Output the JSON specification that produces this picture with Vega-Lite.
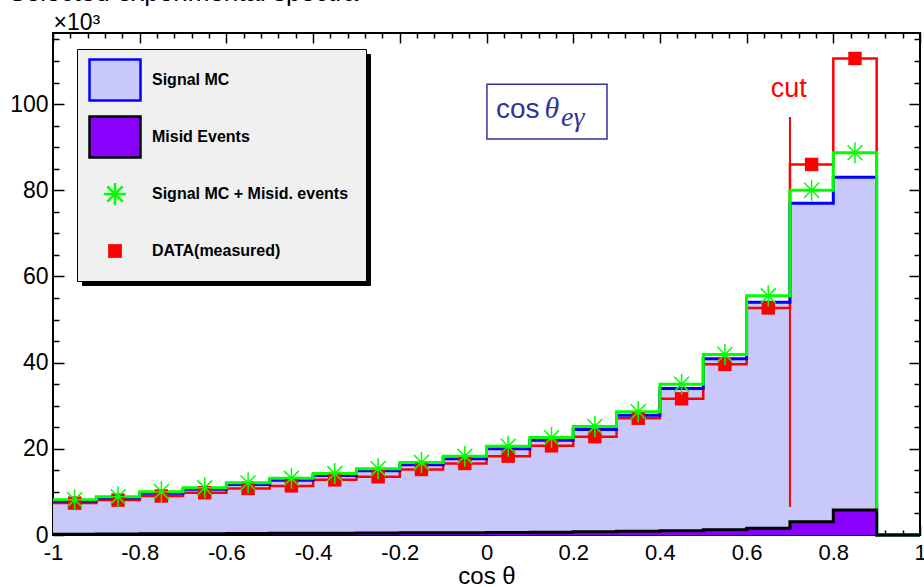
{
  "$schema": "https://vega.github.io/schema/vega-lite/v6.json",
  "width": 867,
  "height": 502,
  "autosize": "none",
  "padding": {"left": 53, "top": 33, "right": 4, "bottom": 52},
  "background": "white",
  "config": {
    "view": {"stroke": "#000", "strokeWidth": 2},
    "axis": {"domain": false, "grid": false, "tickColor": "#000", "tickWidth": 1.5, "labelColor": "#000", "labelFont": "Liberation Sans", "labelFontSize": 22, "titleFont": "Liberation Sans", "titleColor": "#000", "titleFontWeight": "normal", "labelFlush": false, "labelOverlap": false},
    "legend": {"orient": "none", "title": null, "padding": 4, "rowPadding": 4, "symbolSize": 2601, "symbolOffset": 7, "labelOffset": 10, "labelFont": "Liberation Sans", "labelFontSize": 16, "labelFontWeight": "bold", "labelColor": "#000000", "labelLimit": 500}
  },
  "datasets": {
    "hist": [
      {"lo": -1.0, "c": -0.95, "sig": 7.9, "mis": 0.2, "tot": 8.2, "dat": 7.4},
      {"lo": -0.9, "c": -0.85, "sig": 8.6, "mis": 0.25, "tot": 8.9, "dat": 8.1},
      {"lo": -0.8, "c": -0.75, "sig": 9.7, "mis": 0.3, "tot": 10.05, "dat": 9.05},
      {"lo": -0.7, "c": -0.65, "sig": 10.6, "mis": 0.3, "tot": 10.95, "dat": 9.8},
      {"lo": -0.6, "c": -0.55, "sig": 11.7, "mis": 0.35, "tot": 12.1, "dat": 10.8},
      {"lo": -0.5, "c": -0.45, "sig": 12.7, "mis": 0.4, "tot": 13.15, "dat": 11.4},
      {"lo": -0.4, "c": -0.35, "sig": 13.8, "mis": 0.4, "tot": 14.25, "dat": 12.8},
      {"lo": -0.3, "c": -0.25, "sig": 14.9, "mis": 0.45, "tot": 15.4, "dat": 13.5},
      {"lo": -0.2, "c": -0.15, "sig": 16.3, "mis": 0.5, "tot": 16.85, "dat": 15.2},
      {"lo": -0.1, "c": -0.05, "sig": 17.7, "mis": 0.55, "tot": 18.3, "dat": 16.6},
      {"lo": 0.0, "c": 0.05, "sig": 20.0, "mis": 0.6, "tot": 20.6, "dat": 18.3},
      {"lo": 0.1, "c": 0.15, "sig": 22.0, "mis": 0.65, "tot": 22.6, "dat": 20.7},
      {"lo": 0.2, "c": 0.25, "sig": 24.5, "mis": 0.75, "tot": 25.2, "dat": 22.8},
      {"lo": 0.3, "c": 0.35, "sig": 27.8, "mis": 0.85, "tot": 28.6, "dat": 27.1},
      {"lo": 0.4, "c": 0.45, "sig": 34.0, "mis": 1.0, "tot": 35.0, "dat": 31.6},
      {"lo": 0.5, "c": 0.55, "sig": 40.9, "mis": 1.2, "tot": 41.9, "dat": 39.6},
      {"lo": 0.6, "c": 0.65, "sig": 54.0, "mis": 1.55, "tot": 55.5, "dat": 52.7},
      {"lo": 0.7, "c": 0.75, "sig": 77.0, "mis": 3.1, "tot": 80.0, "dat": 86.0},
      {"lo": 0.8, "c": 0.85, "sig": 83.0, "mis": 5.8, "tot": 88.7, "dat": 110.6},
      {"lo": 0.9, "c": 0.95, "sig": 0, "mis": 0, "tot": 0, "dat": 0},
      {"lo": 1.0, "c": null, "sig": 0, "mis": 0, "tot": 0, "dat": 0}
    ],
    "cut": [{"x": 0.7, "y": 6.5, "y2": 97}],
    "cutlabel": [{"x": 0.697, "y": 101.7, "t": "cut"}],
    "box": [{"x": 0.001, "x2": 0.278, "y": 104.6, "y2": 91.9}],
    "lab1": [{"x": 0.022, "y": 96.7, "t": "cos"}],
    "lab2": [{"x": 0.134, "y": 96.7, "t": "θ"}],
    "lab3": [{"x": 0.172, "y": 95.0, "t": "eγ"}],
    "legend": [{"entry": "Signal MC"}, {"entry": "Misid Events"}, {"entry": "Signal MC + Misid. events"}, {"entry": "DATA(measured)"}],
    "shadow": [{"box": "s1"}, {"box": "s2"}, {"box": "s3"}, {"box": "s4"}]
  },
  "resolve": {"axis": {"x": "independent", "y": "independent"}},
  "layer": [
    {
      "data": {"name": "hist"},
      "mark": {"type": "area", "interpolate": "step-after", "fill": "#c8c8fa"},
      "encoding": {
        "x": {"field": "lo", "type": "quantitative", "scale": {"domain": [-1, 1], "nice": false},
          "axis": {"orient": "bottom", "values": [-1, -0.8, -0.6, -0.4, -0.2, 0, 0.2, 0.4, 0.6, 0.8, 1], "tickSize": -10, "labelPadding": 17, "labelExpr": "datum.value == 0 ? '0' : replace(format(datum.value, '.1~f'), '\u2212', '-')", "title": "cos θ", "titleFontSize": 24, "titleY": 48, "titleBaseline": "alphabetic"}},
        "y": {"field": "sig", "type": "quantitative", "stack": null, "scale": {"domain": [0, 116.5], "nice": false, "zero": false},
          "axis": {"orient": "left", "values": [0, 20, 40, 60, 80, 100], "tickSize": -11, "labelPadding": 16, "labelFontSize": 23, "title": "×10³", "titleFontSize": 23, "titleAngle": 0, "titleX": 0, "titleY": -4, "titleAlign": "left", "titleBaseline": "alphabetic"}}
      }
    },
    {
      "data": {"name": "hist"},
      "mark": {"type": "area", "interpolate": "step-after", "fill": "#8a00ff"},
      "encoding": {
        "x": {"field": "lo", "type": "quantitative", "scale": {"domain": [-1, 1], "nice": false},
          "axis": {"orient": "bottom", "values": [-0.96, -0.92, -0.88, -0.84, -0.76, -0.72, -0.68, -0.64, -0.56, -0.52, -0.48, -0.44, -0.36, -0.32, -0.28, -0.24, -0.16, -0.12, -0.08, -0.04, 0.04, 0.08, 0.12, 0.16, 0.24, 0.28, 0.32, 0.36, 0.44, 0.48, 0.52, 0.56, 0.64, 0.68, 0.72, 0.76, 0.84, 0.88, 0.92, 0.96], "tickSize": -5, "labels": false, "title": null}},
        "y": {"field": "mis", "type": "quantitative", "stack": null, "scale": {"domain": [0, 116.5], "nice": false, "zero": false},
          "axis": {"orient": "left", "values": [5, 10, 15, 25, 30, 35, 45, 50, 55, 65, 70, 75, 85, 90, 95, 105, 110, 115], "tickSize": -6, "labels": false, "title": null}}
      }
    },
    {
      "data": {"name": "hist"},
      "mark": {"type": "line", "interpolate": "step-after", "color": "#ff0000", "strokeWidth": 2.5},
      "encoding": {
        "x": {"field": "lo", "type": "quantitative", "scale": {"domain": [-1, 1], "nice": false},
          "axis": {"orient": "top", "values": [-1, -0.8, -0.6, -0.4, -0.2, 0, 0.2, 0.4, 0.6, 0.8, 1], "tickSize": -10, "labels": false, "title": "Selected experimental spectra", "titleFontSize": 26, "titleAngle": 0, "titleX": -45, "titleY": -33, "titleAlign": "left", "titleBaseline": "alphabetic"}},
        "y": {"field": "dat", "type": "quantitative", "scale": {"domain": [0, 116.5], "nice": false, "zero": false},
          "axis": {"orient": "right", "values": [0, 20, 40, 60, 80, 100], "tickSize": -11, "labels": false, "title": null}}
      }
    },
    {
      "data": {"name": "cut"},
      "mark": {"type": "rule", "color": "#ff0000", "strokeWidth": 2},
      "encoding": {
        "x": {"field": "x", "type": "quantitative", "scale": {"domain": [-1, 1], "nice": false}, "axis": null},
        "y": {"field": "y", "type": "quantitative", "scale": {"domain": [0, 116.5], "nice": false, "zero": false}, "axis": null},
        "y2": {"field": "y2"}
      }
    },
    {
      "data": {"name": "hist"},
      "mark": {"type": "line", "interpolate": "step-after", "color": "#0000ff", "strokeWidth": 3},
      "encoding": {
        "x": {"field": "lo", "type": "quantitative", "scale": {"domain": [-1, 1], "nice": false},
          "axis": {"orient": "top", "values": [-0.96, -0.92, -0.88, -0.84, -0.76, -0.72, -0.68, -0.64, -0.56, -0.52, -0.48, -0.44, -0.36, -0.32, -0.28, -0.24, -0.16, -0.12, -0.08, -0.04, 0.04, 0.08, 0.12, 0.16, 0.24, 0.28, 0.32, 0.36, 0.44, 0.48, 0.52, 0.56, 0.64, 0.68, 0.72, 0.76, 0.84, 0.88, 0.92, 0.96], "tickSize": -5, "labels": false, "title": null}},
        "y": {"field": "sig", "type": "quantitative", "scale": {"domain": [0, 116.5], "nice": false, "zero": false},
          "axis": {"orient": "right", "values": [5, 10, 15, 25, 30, 35, 45, 50, 55, 65, 70, 75, 85, 90, 95, 105, 110, 115], "tickSize": -6, "labels": false, "title": null}}
      }
    },
    {
      "data": {"name": "hist"},
      "mark": {"type": "line", "interpolate": "step-after", "color": "#00ff00", "strokeWidth": 3},
      "encoding": {
        "x": {"field": "lo", "type": "quantitative", "scale": {"domain": [-1, 1], "nice": false}, "axis": null},
        "y": {"field": "tot", "type": "quantitative", "scale": {"domain": [0, 116.5], "nice": false, "zero": false}, "axis": null}
      }
    },
    {
      "data": {"name": "hist"},
      "mark": {"type": "line", "interpolate": "step-after", "color": "#000000", "strokeWidth": 3},
      "encoding": {
        "x": {"field": "lo", "type": "quantitative", "scale": {"domain": [-1, 1], "nice": false}, "axis": null},
        "y": {"field": "mis", "type": "quantitative", "scale": {"domain": [0, 116.5], "nice": false, "zero": false}, "axis": null}
      }
    },
    {
      "data": {"name": "hist"},
      "transform": [{"filter": "datum.dat > 0"}],
      "mark": {"type": "point", "shape": "square", "filled": true, "color": "#ff0000", "size": 180, "opacity": 1},
      "encoding": {
        "x": {"field": "c", "type": "quantitative", "scale": {"domain": [-1, 1], "nice": false}, "axis": null},
        "y": {"field": "dat", "type": "quantitative", "scale": {"domain": [0, 116.5], "nice": false, "zero": false}, "axis": null}
      }
    },
    {
      "data": {"name": "hist"},
      "transform": [{"filter": "datum.tot > 0"}],
      "mark": {"type": "point", "shape": "M-1,0L1,0M0,-1L0,1M-0.71,-0.71L0.71,0.71M-0.71,0.71L0.71,-0.71", "filled": false, "stroke": "#00ff00", "strokeWidth": 1.5, "size": 441, "opacity": 1},
      "encoding": {
        "x": {"field": "c", "type": "quantitative", "scale": {"domain": [-1, 1], "nice": false}, "axis": null},
        "y": {"field": "tot", "type": "quantitative", "scale": {"domain": [0, 116.5], "nice": false, "zero": false}, "axis": null}
      }
    },
    {
      "data": {"name": "box"},
      "mark": {"type": "rect", "fill": "#ffffff", "stroke": "#333399", "strokeWidth": 1.5},
      "encoding": {
        "x": {"field": "x", "type": "quantitative", "scale": {"domain": [-1, 1], "nice": false}, "axis": null},
        "x2": {"field": "x2"},
        "y": {"field": "y", "type": "quantitative", "scale": {"domain": [0, 116.5], "nice": false, "zero": false}, "axis": null},
        "y2": {"field": "y2"}
      }
    },
    {
      "data": {"name": "lab1"},
      "mark": {"type": "text", "font": "Liberation Sans", "fontSize": 28, "color": "#333399", "align": "left", "baseline": "alphabetic"},
      "encoding": {
        "x": {"field": "x", "type": "quantitative", "scale": {"domain": [-1, 1], "nice": false}, "axis": null},
        "y": {"field": "y", "type": "quantitative", "scale": {"domain": [0, 116.5], "nice": false, "zero": false}, "axis": null},
        "text": {"field": "t"}
      }
    },
    {
      "data": {"name": "lab2"},
      "mark": {"type": "text", "font": "Liberation Serif", "fontStyle": "italic", "fontSize": 30, "color": "#333399", "align": "left", "baseline": "alphabetic"},
      "encoding": {
        "x": {"field": "x", "type": "quantitative", "scale": {"domain": [-1, 1], "nice": false}, "axis": null},
        "y": {"field": "y", "type": "quantitative", "scale": {"domain": [0, 116.5], "nice": false, "zero": false}, "axis": null},
        "text": {"field": "t"}
      }
    },
    {
      "data": {"name": "lab3"},
      "mark": {"type": "text", "font": "Liberation Serif", "fontStyle": "italic", "fontSize": 28, "color": "#333399", "align": "left", "baseline": "alphabetic"},
      "encoding": {
        "x": {"field": "x", "type": "quantitative", "scale": {"domain": [-1, 1], "nice": false}, "axis": null},
        "y": {"field": "y", "type": "quantitative", "scale": {"domain": [0, 116.5], "nice": false, "zero": false}, "axis": null},
        "text": {"field": "t"}
      }
    },
    {
      "data": {"name": "cutlabel"},
      "mark": {"type": "text", "font": "Liberation Sans", "fontSize": 27, "color": "#ff0000", "align": "center", "baseline": "alphabetic"},
      "encoding": {
        "x": {"field": "x", "type": "quantitative", "scale": {"domain": [-1, 1], "nice": false}, "axis": null},
        "y": {"field": "y", "type": "quantitative", "scale": {"domain": [0, 116.5], "nice": false, "zero": false}, "axis": null},
        "text": {"field": "t"}
      }
    },
    {
      "data": {"name": "shadow"},
      "mark": {"type": "point", "opacity": 0},
      "encoding": {
        "color": {"field": "box", "type": "nominal",
          "scale": {"domain": ["s1", "s2", "s3", "s4"], "range": ["#000000", "#000000", "#000000", "#000000"]},
          "legend": {"legendX": 29, "legendY": 21, "fillColor": "#000000", "strokeColor": "#000000", "symbolType": "M-1,-0.8L1,-0.8L1,0.8L-1,0.8Z", "labelOpacity": 0, "symbolOpacity": 0, "zindex": 1, "rowPadding": 11.6,
            "labelExpr": "datum.value == 's3' ? 'Signal MC + Misid. events\u00a0\u00a0\u00a0\u200b' : 'Signal MC'"}
        }
      }
    },
    {
      "data": {"name": "legend"},
      "mark": {"type": "point", "opacity": 0, "filled": true},
      "encoding": {
        "shape": {"field": "entry", "type": "nominal",
          "scale": {"domain": ["Signal MC", "Misid Events", "Signal MC + Misid. events", "DATA(measured)"], "range": ["M-1,-0.8L1,-0.8L1,0.8L-1,0.8Z", "M-1,-0.8L1,-0.8L1,0.8L-1,0.8Z", "M-1,-0.8M1,0.8M-0.43,0L0.43,0M0,-0.43L0,0.43M-0.3,-0.3L0.3,0.3M-0.3,0.3L0.3,-0.3", "M-1,-0.8M1,0.8M-0.27,-0.27L0.27,-0.27L0.27,0.27L-0.27,0.27Z"]},
          "legend": {"legendX": 24, "legendY": 16, "fillColor": "#f0f0f0", "strokeColor": "#000000", "zindex": 2, "symbolFillColor": "#000000",
            "labelExpr": "datum.label == 'Signal MC + Misid. events' ? datum.label + '\u00a0\u00a0\u00a0\u200b' : datum.label",
            "encode": {"symbols": {"update": {"opacity": {"value": 1}, "fillOpacity": {"value": 1}, "strokeOpacity": {"value": 1}}}}}
        },
        "fill": {"field": "entry", "type": "nominal",
          "scale": {"domain": ["Signal MC", "Misid Events", "Signal MC + Misid. events", "DATA(measured)"], "range": ["#c8c8fa", "#8a00ff", "transparent", "#ff0000"]},
          "legend": {"legendX": 24, "legendY": 16, "fillColor": "#f0f0f0", "strokeColor": "#000000", "zindex": 2, "symbolFillColor": "#000000",
            "labelExpr": "datum.label == 'Signal MC + Misid. events' ? datum.label + '\u00a0\u00a0\u00a0\u200b' : datum.label",
            "encode": {"symbols": {"update": {"opacity": {"value": 1}, "fillOpacity": {"value": 1}, "strokeOpacity": {"value": 1}}}}}
        },
        "stroke": {"field": "entry", "type": "nominal",
          "scale": {"domain": ["Signal MC", "Misid Events", "Signal MC + Misid. events", "DATA(measured)"], "range": ["#0000ff", "#000000", "#00ff00", "transparent"]},
          "legend": {"legendX": 24, "legendY": 16, "fillColor": "#f0f0f0", "strokeColor": "#000000", "zindex": 2, "symbolFillColor": "#000000",
            "labelExpr": "datum.label == 'Signal MC + Misid. events' ? datum.label + '\u00a0\u00a0\u00a0\u200b' : datum.label",
            "encode": {"symbols": {"update": {"opacity": {"value": 1}, "fillOpacity": {"value": 1}, "strokeOpacity": {"value": 1}}}}}
        },
        "strokeWidth": {"field": "entry", "type": "nominal",
          "scale": {"domain": ["Signal MC", "Misid Events", "Signal MC + Misid. events", "DATA(measured)"], "range": [2.5, 2.5, 1.5, 2.5]},
          "legend": {"legendX": 24, "legendY": 16, "fillColor": "#f0f0f0", "strokeColor": "#000000", "zindex": 2, "symbolFillColor": "#000000",
            "labelExpr": "datum.label == 'Signal MC + Misid. events' ? datum.label + '\u00a0\u00a0\u00a0\u200b' : datum.label",
            "encode": {"symbols": {"update": {"opacity": {"value": 1}, "fillOpacity": {"value": 1}, "strokeOpacity": {"value": 1}}}}}
        }
      }
    }
  ]
}
